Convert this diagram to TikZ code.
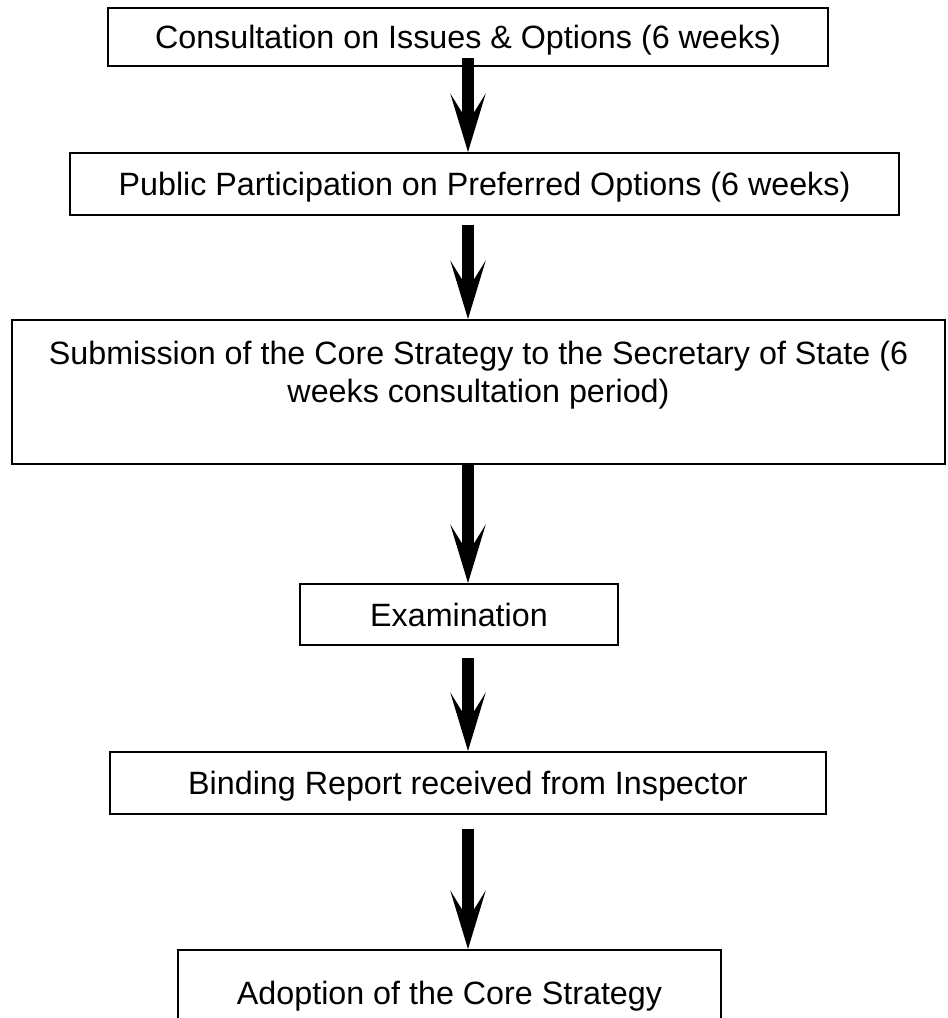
\documentclass[tikz,border=0pt]{standalone}
\usepackage{fontspec}
\setmainfont{Liberation Sans}
\usetikzlibrary{arrows.meta}
\begin{document}
\begin{tikzpicture}[x=0.75pt, y=-0.75pt,
  box/.style={draw, line width=1.4pt, inner sep=0pt, text height=17.3pt, text depth=0pt,
    font=\fontsize{24.2pt}{28.5pt}\selectfont},
  txt/.style={inner sep=0pt, align=center, font=\fontsize{24.2pt}{28.5pt}\selectfont},
  bigarrow/.style={line width=8.6pt, line cap=butt,
    -{Stealth[length=43.5pt, width=26.25pt, inset=21pt]}}]
\useasboundingbox (0,0) rectangle (947,1018);
\clip (0,0) rectangle (947,1018);
\node[box, minimum width=540pt, minimum height=43.5pt] (b1) at (468,37) {Consultation on Issues \& Options (6 weeks)};
\node[box, minimum width=621.75pt, minimum height=46.5pt] (b2) at (484.5,184) {Public Participation on Preferred Options (6 weeks)};
\node[box, minimum width=699.75pt, minimum height=108pt] (b3) at (478.5,392) {};
\node[txt, anchor=north] (t3) at ([yshift=-16.5pt]b3.north) {Submission of the Core Strategy to the Secretary of State (6\\weeks consultation period)};
\node[box, minimum width=238.5pt, minimum height=45.75pt] (b4) at (459,614.5) {Examination};
\node[box, minimum width=537pt, minimum height=46.5pt] (b5) at (468,783) {Binding Report received from Inspector};
\node[box, minimum width=407.25pt, minimum height=64.5pt] (b6) at (449.5,993) {Adoption of the Core Strategy};
\coordinate (ax) at (468,0);
\draw[bigarrow] ([yshift=6.75pt]b1.south -| ax) -- (b2.north -| ax);
\draw[bigarrow] ([yshift=-6.75pt]b2.south -| ax) -- (b3.north -| ax);
\draw[bigarrow] (b3.south -| ax) -- (b4.north -| ax);
\draw[bigarrow] ([yshift=-9pt]b4.south -| ax) -- (b5.north -| ax);
\draw[bigarrow] ([yshift=-10.5pt]b5.south -| ax) -- (b6.north -| ax);
\end{tikzpicture}
\end{document}
